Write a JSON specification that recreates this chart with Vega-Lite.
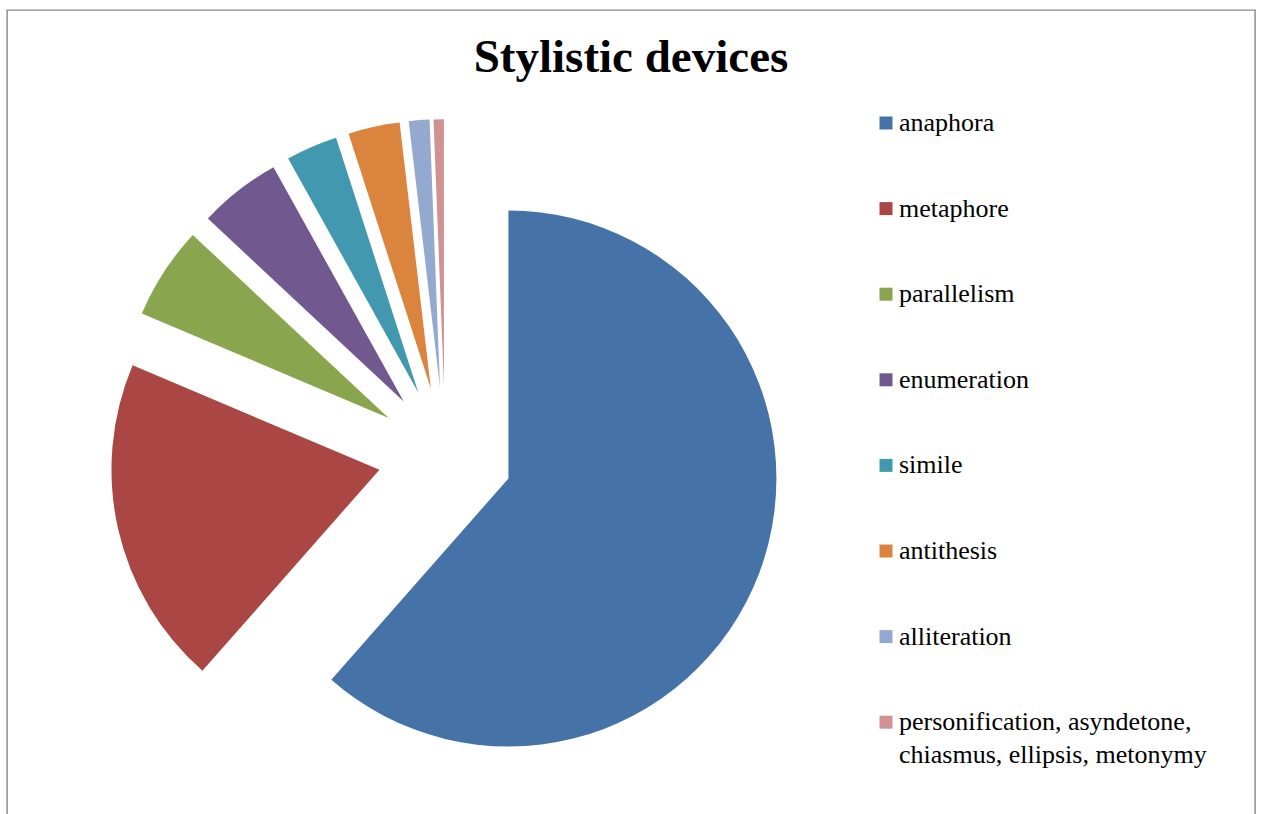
{
  "$schema": "https://vega.github.io/schema/vega-lite/v6.json",
  "width": 1248,
  "height": 807,
  "autosize": {"type": "none"},
  "padding": {"left": 7, "top": 10, "right": 8, "bottom": -3},
  "background": "white",
  "title": {
    "text": "Stylistic devices",
    "font": "Liberation Serif",
    "fontSize": 47,
    "fontWeight": "bold",
    "color": "black",
    "anchor": "middle",
    "frame": "group",
    "baseline": "alphabetic",
    "offset": -109
  },
  "data": {
    "values": [
      {"device": "anaphora", "count": 99, "order": 1},
      {"device": "metaphore", "count": 32, "order": 2},
      {"device": "parallelism", "count": 9, "order": 3},
      {"device": "enumeration", "count": 8, "order": 4},
      {"device": "simile", "count": 5, "order": 5},
      {"device": "antithesis", "count": 5, "order": 6},
      {"device": "alliteration", "count": 2, "order": 7},
      {"device": "personification, asyndetone, chiasmus, ellipsis, metonymy", "count": 1, "order": 8}
    ]
  },
  "transform": [
    {"joinaggregate": [{"op": "sum", "field": "count", "as": "total"}]},
    {"window": [{"op": "sum", "field": "count", "as": "cum"}], "sort": [{"field": "order", "order": "ascending"}], "frame": [null, 0]},
    {"calculate": "datum.cum - datum.count", "as": "start"},
    {"calculate": "(datum.cum - datum.count / 2) / datum.total * 2 * PI", "as": "mid"},
    {"calculate": "sin(datum.mid)", "as": "ex"},
    {"calculate": "-cos(datum.mid)", "as": "ey"}
  ],
  "mark": {"type": "arc", "outerRadius": 268, "stroke": null},
  "encoding": {
    "theta": {"field": "cum", "type": "quantitative", "stack": null},
    "theta2": {"field": "start"},
    "x": {"field": "ex", "type": "quantitative", "stack": null, "axis": null, "scale": {"domain": [-6.493, 11.996], "nice": false, "zero": false}},
    "y": {"field": "ey", "type": "quantitative", "stack": null, "axis": null, "scale": {"domain": [-6.588, 5.368], "nice": false, "zero": false, "reverse": true}},
    "color": {
      "field": "device",
      "type": "nominal",
      "scale": {
        "domain": ["anaphora", "metaphore", "parallelism", "enumeration", "simile", "antithesis", "alliteration", "personification, asyndetone, chiasmus, ellipsis, metonymy"],
        "range": ["#4572A7", "#AA4643", "#89A54E", "#71588F", "#4198AF", "#DB843D", "#93A9CF", "#D19392"]
      },
      "legend": {
        "title": null,
        "orient": "none",
        "legendX": 866,
        "legendY": 100,
        "symbolType": "square",
        "symbolSize": 169,
        "symbolStrokeWidth": 0,
        "labelFont": "Liberation Serif",
        "labelFontSize": 26,
        "labelColor": "black",
        "labelLimit": 500,
        "labelOffset": 0,
        "labelBaseline": "middle",
        "rowPadding": 59.6,
        "labelExpr": "datum.label == 'personification, asyndetone, chiasmus, ellipsis, metonymy' ? ['personification, asyndetone,', 'chiasmus, ellipsis, metonymy'] : datum.label"
      }
    },
    "order": {"field": "order", "type": "quantitative"}
  },
  "config": {
    "view": {"stroke": "#888888", "strokeWidth": 1.4},
    "style": {"guide-label": {"lineHeight": 32.6}}
  }
}
